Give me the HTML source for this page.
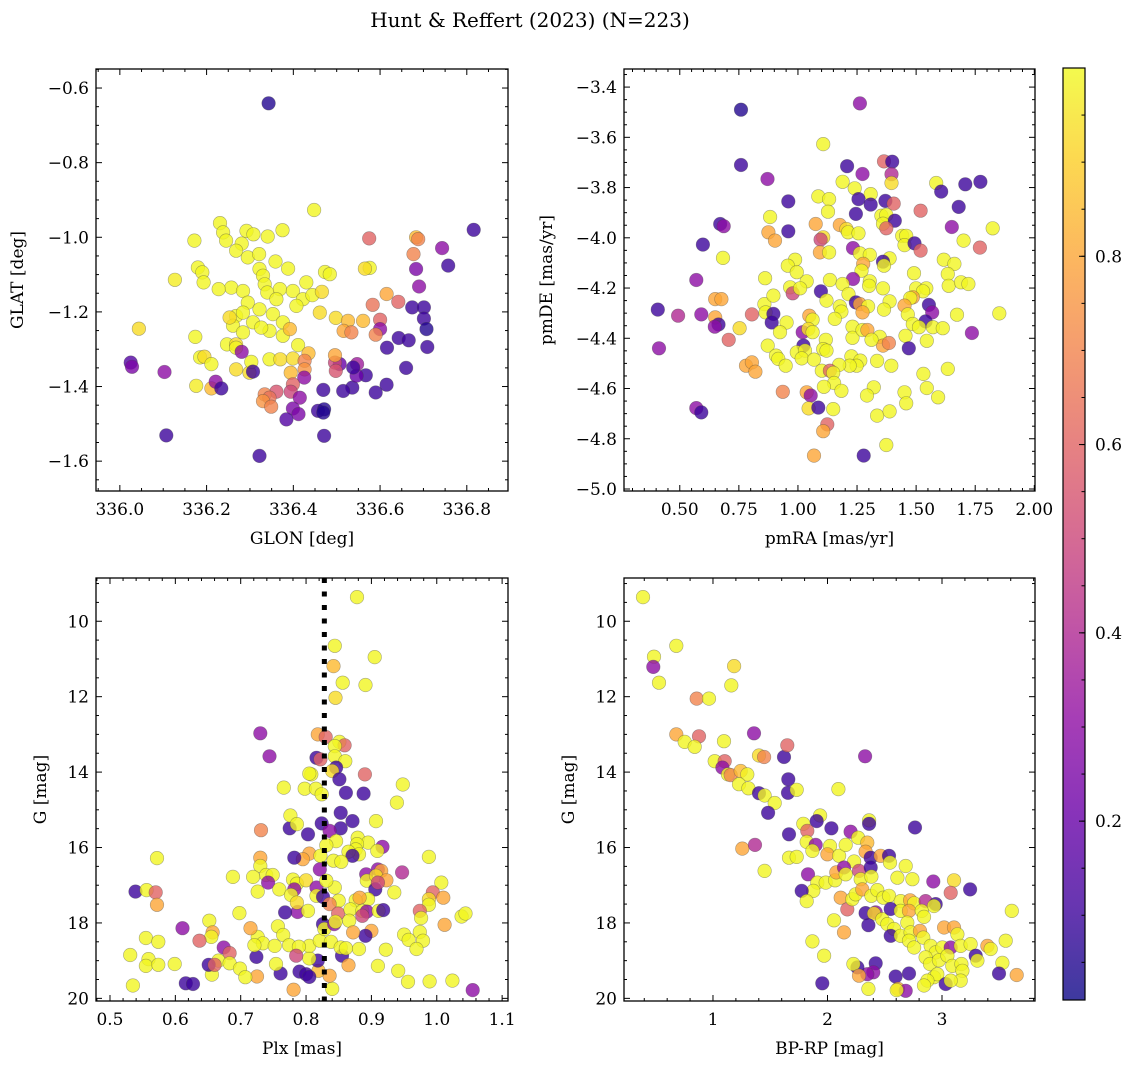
<!DOCTYPE html>
<html><head><meta charset="utf-8"><style>
html,body{margin:0;padding:0;background:#fff;}
svg text{font-family:"DejaVu Serif","Liberation Serif",serif;fill:#000;}
</style></head><body>
<svg id="fig" width="1136" height="1068" viewBox="0 0 1136 1068" xmlns="http://www.w3.org/2000/svg">
<text x="530" y="27" font-size="20" text-anchor="middle">Hunt &amp; Reffert (2023) (N=223)</text>
</svg>
<script>
// ---- data: [x, y, membership probability] ----
const glonGlat = [[336.343,-0.641,.05],[336.448,-0.927,.99],[336.816,-0.980,.1],[336.231,-0.962,.99],[336.172,-1.009,.99],[336.238,-0.987,.99],[336.245,-1.009,.99],[336.292,-0.983,.99],[336.308,-0.992,.99],[336.341,-0.998,.99],[336.375,-0.981,.99],[336.281,-1.017,.99],[336.268,-1.036,.99],[336.295,-1.054,.99],[336.321,-1.045,.99],[336.359,-1.065,.99],[336.180,-1.081,.99],[336.190,-1.094,.99],[336.322,-1.085,.99],[336.330,-1.103,.99],[336.388,-1.084,.99],[336.473,-1.093,.99],[336.484,-1.099,.99],[336.127,-1.114,.97],[336.193,-1.121,.99],[336.257,-1.135,.99],[336.228,-1.139,.99],[336.284,-1.144,.99],[336.334,-1.126,.99],[336.430,-1.121,.99],[336.340,-1.148,.99],[336.369,-1.139,.99],[336.399,-1.144,.99],[336.422,-1.166,.99],[336.444,-1.155,.99],[336.466,-1.146,.93],[336.361,-1.166,.99],[336.407,-1.184,.99],[336.295,-1.175,.99],[336.322,-1.193,.99],[336.353,-1.206,.99],[336.268,-1.211,.99],[336.261,-1.237,.99],[336.307,-1.228,.99],[336.345,-1.251,.99],[336.376,-1.228,.99],[336.284,-1.255,.99],[336.253,-1.215,.93],[336.326,-1.242,.99],[336.284,-1.202,.99],[336.376,-1.264,.99],[336.411,-1.289,.99],[336.392,-1.246,.85],[336.044,-1.245,.93],[336.174,-1.267,.99],[336.247,-1.287,.99],[336.268,-1.287,.93],[336.268,-1.296,.99],[336.185,-1.322,.99],[336.195,-1.320,.93],[336.211,-1.340,.99],[336.268,-1.354,.93],[336.299,-1.363,.93],[336.303,-1.334,.99],[336.345,-1.327,.99],[336.370,-1.327,.93],[336.399,-1.325,.93],[336.394,-1.363,.85],[336.435,-1.311,.85],[336.461,-1.202,.93],[336.498,-1.216,.93],[336.526,-1.224,.85],[336.516,-1.251,.8],[336.534,-1.255,.7],[336.561,-1.224,.85],[336.576,-1.082,.99],[336.565,-1.084,.93],[336.575,-1.003,.6],[336.683,-1.000,.85],[336.688,-1.005,.7],[336.677,-1.045,.7],[336.743,-1.029,.3],[336.757,-1.076,.1],[336.683,-1.085,.25],[336.690,-1.132,.3],[336.615,-1.152,.8],[336.583,-1.181,.65],[336.642,-1.173,.6],[336.600,-1.221,.6],[336.600,-1.246,.3],[336.590,-1.261,.7],[336.674,-1.188,.1],[336.701,-1.188,.1],[336.701,-1.218,.1],[336.707,-1.246,.05],[336.709,-1.294,.1],[336.643,-1.270,.1],[336.666,-1.276,.1],[336.616,-1.296,.1],[336.660,-1.350,.1],[336.615,-1.395,.1],[336.590,-1.416,.1],[336.536,-1.403,.1],[336.515,-1.412,.1],[336.469,-1.409,.1],[336.567,-1.370,.1],[336.546,-1.371,.2],[336.547,-1.340,.35],[336.538,-1.349,.1],[336.507,-1.340,.2],[336.496,-1.336,.5],[336.498,-1.358,.55],[336.496,-1.316,.8],[336.426,-1.331,.7],[336.426,-1.354,.75],[336.425,-1.376,.3],[336.399,-1.394,.6],[336.394,-1.414,.5],[336.415,-1.430,.3],[336.399,-1.459,.25],[336.412,-1.474,.25],[336.384,-1.488,.15],[336.361,-1.414,.55],[336.334,-1.421,.7],[336.345,-1.430,.65],[336.330,-1.439,.75],[336.349,-1.454,.7],[336.457,-1.465,.1],[336.471,-1.461,.05],[336.469,-1.470,.05],[336.471,-1.532,.1],[336.322,-1.586,.1],[336.107,-1.531,.1],[336.025,-1.336,.15],[336.028,-1.347,.25],[336.103,-1.361,.3],[336.176,-1.398,.97],[336.211,-1.405,.85],[336.221,-1.387,.3],[336.234,-1.405,.1],[336.307,-1.360,.1],[336.281,-1.307,.3]];
const pmraPmde = [[1.262,-3.465,.3],[0.759,-3.490,.05],[0.759,-3.710,.1],[1.107,-3.627,.99],[0.871,-3.766,.3],[1.208,-3.715,.1],[1.273,-3.746,.3],[1.364,-3.696,.6],[1.399,-3.697,.1],[1.396,-3.747,.4],[1.396,-3.782,.93],[1.189,-3.777,.99],[1.240,-3.803,.99],[1.308,-3.826,.99],[1.256,-3.846,.1],[1.308,-3.868,.1],[1.370,-3.853,.1],[1.405,-3.864,.6],[1.086,-3.835,.99],[1.132,-3.846,.99],[1.127,-3.896,.99],[1.245,-3.905,.1],[1.353,-3.912,.99],[1.374,-3.909,.99],[1.360,-3.944,.99],[1.410,-3.932,.1],[1.374,-3.962,.6],[0.959,-3.855,.1],[0.959,-3.974,.1],[0.882,-3.917,.99],[0.875,-3.978,.8],[0.903,-4.011,.8],[1.075,-3.945,.8],[1.107,-3.998,.93],[1.096,-4.007,.5],[1.093,-4.058,.8],[1.132,-4.058,.99],[1.177,-3.949,.8],[1.205,-3.965,.93],[1.212,-3.978,.99],[1.256,-3.982,.99],[0.671,-3.945,.1],[0.686,-3.954,.3],[0.598,-4.027,.1],[0.683,-4.080,.99],[0.570,-4.168,.3],[1.585,-3.782,.99],[1.606,-3.816,.1],[1.708,-3.787,.1],[1.772,-3.777,.1],[1.680,-3.877,.1],[1.519,-3.892,.6],[1.651,-3.957,.3],[1.824,-3.962,.99],[1.701,-4.011,.99],[1.770,-4.039,.6],[1.441,-3.992,.99],[1.458,-3.992,.99],[1.451,-4.029,.99],[1.493,-4.022,.1],[1.519,-4.051,.6],[1.233,-4.041,.3],[1.262,-4.062,.99],[1.304,-4.068,.99],[1.276,-4.104,.8],[1.388,-4.082,.99],[1.360,-4.095,.1],[1.364,-4.111,.99],[1.269,-4.131,.99],[1.304,-4.173,.99],[1.301,-4.191,.99],[1.233,-4.164,.3],[1.135,-4.168,.99],[1.189,-4.184,.99],[1.037,-4.173,.99],[0.988,-4.087,.99],[0.957,-4.111,.99],[0.995,-4.137,.99],[0.861,-4.161,.99],[0.967,-4.197,.99],[0.978,-4.221,.5],[1.009,-4.201,.99],[1.097,-4.213,.1],[1.214,-4.224,.99],[1.121,-4.250,.99],[1.177,-4.273,.99],[1.184,-4.294,.99],[1.245,-4.257,.1],[1.262,-4.264,.8],[1.297,-4.273,.99],[1.273,-4.297,.8],[1.360,-4.201,.99],[1.388,-4.253,.99],[1.364,-4.286,.99],[1.491,-4.141,.99],[1.500,-4.201,.99],[1.543,-4.201,.99],[1.529,-4.213,.99],[1.486,-4.237,.8],[1.475,-4.240,.99],[1.554,-4.267,.1],[1.568,-4.297,.3],[1.540,-4.333,.1],[1.617,-4.087,.99],[1.662,-4.104,.99],[1.634,-4.144,.99],[1.638,-4.191,.99],[1.690,-4.177,.99],[1.721,-4.184,.99],[1.673,-4.306,.99],[1.852,-4.301,.99],[1.736,-4.379,.3],[1.451,-4.270,.8],[1.465,-4.305,.99],[1.486,-4.343,.99],[1.512,-4.356,.99],[1.571,-4.356,.99],[1.613,-4.360,.99],[1.545,-4.410,.99],[1.455,-4.390,.99],[1.469,-4.440,.1],[0.650,-4.244,.8],[0.676,-4.244,.8],[0.407,-4.286,.1],[0.493,-4.310,.4],[0.591,-4.305,.3],[0.650,-4.317,.8],[0.664,-4.345,.1],[0.648,-4.354,.3],[0.805,-4.305,.6],[0.707,-4.406,.6],[0.753,-4.360,.93],[0.412,-4.440,.3],[0.858,-4.264,.99],[0.863,-4.297,.99],[0.896,-4.230,.99],[0.896,-4.303,.1],[0.889,-4.337,.1],[0.952,-4.337,.99],[0.924,-4.376,.99],[0.872,-4.429,.99],[0.907,-4.469,.99],[0.917,-4.482,.99],[0.948,-4.509,.99],[1.020,-4.376,.3],[1.023,-4.429,.1],[0.995,-4.456,.99],[1.030,-4.449,.99],[1.016,-4.480,.99],[1.068,-4.485,.99],[1.048,-4.310,.8],[1.062,-4.326,.99],[1.044,-4.363,.93],[1.062,-4.376,.99],[1.118,-4.406,.99],[1.107,-4.443,.99],[1.121,-4.449,.99],[1.156,-4.323,.99],[1.231,-4.354,.99],[1.231,-4.398,.99],[1.273,-4.367,.99],[1.294,-4.367,.8],[1.346,-4.394,.99],[1.360,-4.429,.8],[1.385,-4.419,.7],[1.311,-4.406,.99],[1.335,-4.490,.99],[1.395,-4.509,.99],[1.226,-4.472,.99],[1.264,-4.489,.99],[1.248,-4.509,.99],[1.219,-4.509,.99],[1.174,-4.506,.99],[0.780,-4.509,.8],[0.805,-4.496,.8],[0.820,-4.533,.8],[1.101,-4.529,.99],[1.135,-4.529,.6],[1.149,-4.538,.99],[1.153,-4.578,.99],[1.110,-4.593,.99],[1.184,-4.609,.99],[1.321,-4.595,.99],[1.292,-4.628,.99],[1.451,-4.615,.99],[1.458,-4.659,.99],[1.531,-4.542,.99],[1.545,-4.598,.99],[1.593,-4.635,.99],[1.634,-4.522,.99],[0.936,-4.613,.7],[1.037,-4.615,.8],[1.054,-4.628,.3],[1.045,-4.679,.93],[1.086,-4.676,.1],[1.149,-4.682,.99],[1.124,-4.743,.6],[1.107,-4.770,.8],[1.068,-4.867,.8],[1.278,-4.867,.1],[1.335,-4.708,.99],[1.388,-4.691,.99],[1.374,-4.825,.99],[0.570,-4.678,.3],[0.591,-4.695,.1]];
const plxG = [[0.878,9.36,.99],[0.844,10.65,.99],[0.905,10.95,.99],[0.842,11.19,.85],[0.856,11.63,.99],[0.891,11.69,.99],[0.845,12.03,.93],[0.730,12.97,.3],[0.744,13.58,.3],[0.818,13.00,.8],[0.830,13.07,.6],[0.851,13.20,.99],[0.859,13.29,.6],[0.844,13.31,.99],[0.844,13.58,.99],[0.860,13.71,.99],[0.816,13.62,.1],[0.822,13.66,.6],[0.846,13.88,.1],[0.840,13.97,.93],[0.851,14.19,.1],[0.890,14.06,.6],[0.808,14.06,.99],[0.805,14.04,.99],[0.766,14.41,.99],[0.798,14.44,.99],[0.815,14.44,.99],[0.824,14.59,.99],[0.861,14.55,.1],[0.888,14.57,.1],[0.948,14.33,.99],[0.939,14.81,.99],[0.853,15.08,.1],[0.871,15.30,.1],[0.853,15.49,.1],[0.775,15.49,.1],[0.776,15.15,.99],[0.786,15.38,.99],[0.803,15.65,.1],[0.824,15.36,.1],[0.836,15.56,.3],[0.731,15.54,.7],[0.907,15.30,.99],[0.879,15.74,.99],[0.895,15.87,.99],[0.878,15.91,.99],[0.876,16.05,.99],[0.881,16.18,.99],[0.865,16.11,.99],[0.871,16.22,.1],[0.917,15.98,.3],[0.909,16.09,.99],[0.846,15.83,.99],[0.831,15.94,.99],[0.842,16.35,.99],[0.854,16.38,.99],[0.805,16.16,.8],[0.795,16.31,.8],[0.782,16.27,.1],[0.822,16.22,.99],[0.821,16.58,.3],[0.572,16.28,.99],[0.730,16.27,.8],[0.730,16.49,.99],[0.739,16.73,.99],[0.749,16.73,.99],[0.719,16.78,.99],[0.688,16.78,.99],[0.726,17.17,.99],[0.742,16.93,.3],[0.759,17.11,.99],[0.780,16.85,.99],[0.786,16.96,.99],[0.800,16.87,.93],[0.782,17.11,.3],[0.777,17.26,.99],[0.816,17.06,.3],[0.816,17.28,.99],[0.826,17.31,.1],[0.844,17.06,.99],[0.831,16.88,.99],[0.892,16.71,.3],[0.893,16.88,.99],[0.910,16.58,.3],[0.915,16.62,.8],[0.907,16.75,.93],[0.923,16.87,.8],[0.906,17.11,.1],[0.910,16.93,.5],[0.895,17.37,.99],[0.876,17.40,.99],[0.882,17.33,.8],[0.850,17.41,.99],[0.836,17.50,.7],[0.849,17.75,.6],[0.868,17.64,.99],[0.866,17.94,.99],[0.886,17.68,.99],[0.893,17.70,.3],[0.886,17.81,.5],[0.911,17.68,.99],[0.918,17.66,.1],[0.935,17.19,.99],[0.947,16.66,.4],[0.988,16.25,.99],[1.007,16.93,.99],[0.994,17.19,.6],[1.010,17.33,.8],[0.988,17.37,.93],[0.988,17.52,.99],[0.974,17.68,.6],[0.976,17.87,.99],[1.038,17.83,.99],[1.044,17.75,.99],[1.012,18.05,.8],[0.974,18.24,.99],[0.950,18.31,.99],[0.957,18.45,.99],[0.979,18.47,.99],[0.969,18.69,.99],[0.922,18.71,.99],[0.910,19.14,.99],[0.941,19.27,.99],[0.956,19.56,.99],[0.989,19.55,.99],[1.024,19.53,.99],[1.055,19.78,.3],[0.840,19.75,.99],[0.836,19.40,.8],[0.819,19.27,.85],[0.818,19.00,.1],[0.805,18.94,.99],[0.805,18.61,.99],[0.821,18.47,.99],[0.838,18.50,.99],[0.826,18.03,.1],[0.828,18.16,.99],[0.843,18.03,.3],[0.845,17.97,.99],[0.855,18.87,.1],[0.865,19.12,.8],[0.853,18.65,.99],[0.861,18.67,.99],[0.881,18.69,.99],[0.900,18.21,.8],[0.891,18.34,.1],[0.872,18.25,.8],[0.787,17.71,.3],[0.786,17.46,.93],[0.768,17.72,.1],[0.803,17.68,.99],[0.757,18.09,.99],[0.765,18.32,.99],[0.774,18.59,.99],[0.789,18.63,.99],[0.785,18.87,.5],[0.790,19.29,.1],[0.800,19.36,.1],[0.805,19.43,.1],[0.761,19.34,.1],[0.754,19.09,.99],[0.781,19.77,.8],[0.725,19.42,.8],[0.724,18.90,.1],[0.726,18.37,.99],[0.734,18.54,.99],[0.721,18.59,.99],[0.752,18.61,.99],[0.715,18.14,.8],[0.698,17.74,.99],[0.652,17.94,.99],[0.657,18.25,.8],[0.655,18.37,.99],[0.637,18.47,.6],[0.611,18.14,.3],[0.674,18.65,.3],[0.683,18.80,.6],[0.666,19.00,.99],[0.683,19.07,.99],[0.699,19.21,.99],[0.707,19.44,.99],[0.656,19.37,.99],[0.651,19.11,.1],[0.660,19.11,.6],[0.599,19.09,.99],[0.616,19.60,.1],[0.627,19.62,.1],[0.555,18.40,.99],[0.574,18.50,.99],[0.531,18.85,.99],[0.559,18.96,.99],[0.555,19.14,.99],[0.574,19.11,.99],[0.535,19.66,.99],[0.539,17.17,.1],[0.556,17.13,.99],[0.570,17.19,.6],[0.572,17.52,.8]];
const bprpG = [[0.389,9.36,.99],[0.485,10.94,.99],[0.479,11.21,.3],[0.529,11.63,.99],[0.680,10.65,.99],[1.184,11.19,.93],[1.160,11.70,.99],[0.858,12.05,.7],[0.965,12.05,.99],[0.680,13.00,.8],[0.878,13.05,.6],[0.753,13.20,.99],[0.840,13.33,.99],[1.096,13.18,.99],[1.358,12.97,.3],[1.402,13.56,.93],[1.446,13.60,.7],[1.620,13.60,.1],[1.649,13.29,.6],[1.015,13.71,.99],[1.102,13.71,.6],[1.082,13.88,.3],[1.131,14.06,.99],[1.155,14.08,.7],[1.242,13.97,.85],[1.300,14.06,.99],[1.227,14.32,.99],[1.309,14.43,.99],[1.402,14.56,.1],[1.451,14.62,.99],[1.539,14.82,.99],[1.481,15.08,.1],[1.658,14.19,.1],[1.655,14.55,.1],[1.731,14.47,.99],[2.095,14.45,.99],[2.328,13.58,.3],[1.935,15.15,.99],[1.906,15.30,.1],[1.789,15.37,.99],[1.824,15.56,.6],[1.664,15.65,.1],[2.034,15.49,.1],[2.202,15.58,.3],[2.363,15.28,.99],[2.363,15.37,.1],[2.764,15.47,.1],[1.818,15.85,.99],[1.897,15.93,.3],[1.868,16.09,.99],[2.022,15.96,.99],[1.999,16.18,.8],[2.101,16.22,.99],[2.159,15.93,.99],[2.267,15.74,.99],[2.348,15.87,.85],[2.333,16.11,.8],[2.377,16.27,.1],[2.232,16.37,.99],[2.464,16.22,.8],[2.537,16.22,.1],[2.546,16.40,.99],[1.256,16.03,.8],[1.367,15.93,.4],[1.664,16.27,.99],[1.731,16.25,.99],[1.451,16.62,.99],[1.830,16.71,.3],[1.911,16.93,.99],[1.984,16.93,.99],[2.066,16.87,.99],[2.077,16.66,.8],[2.144,16.53,.3],[2.159,16.71,.99],[2.275,16.62,.5],[2.290,16.84,.99],[2.377,16.53,.1],[2.383,16.77,.99],[2.610,16.80,.99],[2.683,16.49,.99],[2.741,16.84,.99],[1.876,17.15,.99],[1.775,17.15,.1],[1.818,17.42,.99],[2.115,17.33,.8],[2.173,17.64,.6],[2.217,17.37,.99],[2.246,17.24,.99],[2.304,17.11,.8],[2.383,17.28,.99],[2.435,17.13,.99],[2.488,17.33,.99],[2.537,17.28,.99],[2.639,17.42,.99],[2.721,17.40,.8],[2.756,17.48,.99],[2.857,17.42,.4],[2.945,17.50,.1],[2.930,17.55,.99],[2.924,16.90,.3],[3.105,16.87,.93],[3.076,17.20,.6],[3.245,17.11,.1],[2.057,17.93,.99],[2.144,18.25,.8],[2.333,17.74,.1],[2.421,17.72,.3],[2.406,17.75,.93],[2.357,18.06,.1],[2.479,17.90,.99],[2.552,17.63,.1],[2.639,17.68,.99],[2.712,17.68,.8],[2.823,17.68,.99],[2.843,17.84,.99],[2.523,18.03,.99],[2.581,18.16,.99],[2.552,18.34,.1],[2.639,18.34,.99],[2.697,17.99,.99],[2.726,18.25,.99],[2.712,18.47,.99],[2.756,18.65,.99],[2.808,18.21,.8],[2.837,18.39,.99],[2.901,18.61,.99],[2.945,18.78,.99],[3.003,18.65,.99],[3.076,18.65,.3],[3.018,18.12,.8],[3.105,18.12,.8],[3.134,18.30,.99],[3.163,18.61,.99],[3.250,18.56,.99],[3.294,18.87,.1],[3.309,19.00,.99],[3.396,18.61,.8],[3.425,18.69,.99],[3.556,18.47,.99],[3.609,17.68,.99],[3.527,19.06,.99],[3.498,19.34,.1],[3.652,19.38,.8],[2.857,18.91,.99],[2.895,19.09,.99],[2.974,18.99,.99],[3.047,18.87,.99],[3.090,19.14,.99],[3.169,19.09,.99],[3.178,19.27,.99],[3.163,19.53,.99],[2.930,19.44,.99],[2.959,19.36,.99],[2.872,19.53,.99],[3.032,19.62,.1],[3.076,19.53,.99],[2.843,19.66,.99],[2.712,19.34,.1],[2.595,19.42,.1],[2.616,19.75,.8],[2.683,19.80,.3],[2.604,19.78,.99],[2.421,19.07,.1],[2.400,19.31,.3],[2.348,19.36,.3],[2.261,19.18,.1],[2.226,19.09,.99],[2.275,19.40,.8],[2.357,19.75,.99],[1.955,19.60,.1],[1.970,18.87,.99],[1.868,18.49,.99]];
const plxReference = [0.828];
const cbarTicks = [0.2, 0.4, 0.6, 0.8];

const NS = "http://www.w3.org/2000/svg";
const svg = document.getElementById('fig');
const stops = [[0,'#0d0887'],[.1,'#41049d'],[.2,'#6a00a8'],[.3,'#8f0da4'],[.4,'#b12a90'],[.5,'#cc4778'],[.6,'#e16462'],[.7,'#f2844b'],[.8,'#fca636'],[.9,'#fcce25'],[1,'#f0f921']];
function hx(c){return [1,3,5].map(i=>parseInt(c.substr(i,2),16));}
function plasma(t){t=Math.max(0,Math.min(1,t));for(let i=1;i<stops.length;i++){if(t<=stops[i][0]){const a=stops[i-1],b=stops[i];const f=(t-a[0])/(b[0]-a[0]);const A=hx(a[1]),B=hx(b[1]);return 'rgb('+A.map((v,k)=>Math.round(v+(B[k]-v)*f)).join(',')+')';}}return stops[10][1];}
const CMIN=0.01,CMAX=1.0;
function el(tag,attrs,parent){const e=document.createElementNS(NS,tag);for(const k in attrs)e.setAttribute(k,attrs[k]);(parent||svg).appendChild(e);return e;}
function fmt(v,d){let s=v.toFixed(d);return s.replace('-','\u2212');}

function panel(cfg){
  const g=el('g',{});
  
  
  const X=v=>cfg.px0+(v-cfg.x0)/(cfg.x1-cfg.x0)*(cfg.px1-cfg.px0);
  const Y=v=>cfg.py0+(v-cfg.y0)/(cfg.y1-cfg.y0)*(cfg.py1-cfg.py0);
  const cid='clip'+cfg.name;
  const cp=el('clipPath',{id:cid},g);
  el('rect',{x:cfg.px0,y:cfg.py0,width:cfg.px1-cfg.px0,height:cfg.py1-cfg.py0},cp);
  const pts=el('g',{'clip-path':'url(#'+cid+')'},g);
  
  
  cfg.data.forEach(d=>{
    const c=el('circle',{cx:X(d[0]).toFixed(1),cy:Y(d[1]).toFixed(1),r:6.8,fill:plasma((d[2]-CMIN)/(CMAX-CMIN)),'fill-opacity':0.8,stroke:'#444','stroke-opacity':0.45,'stroke-width':0.6},pts);
    
    
  });
  if(cfg.vline){cfg.vline.forEach(v=>{
    const l=el('line',{x1:X(v),x2:X(v),y1:cfg.py0,y2:cfg.py1,stroke:'#000','stroke-width':5,'stroke-dasharray':'5,8.5'},g);
    
    
  });}
  const fr=el('rect',{x:cfg.px0,y:cfg.py0,width:cfg.px1-cfg.px0,height:cfg.py1-cfg.py0,fill:'none',stroke:'#000','stroke-width':1.3},g);
  
  
  const tk=el('g',{stroke:'#000','stroke-width':1},g);
  const lo=Math.min(cfg.x0,cfg.x1),hi=Math.max(cfg.x0,cfg.x1);
  for(let v=Math.ceil(lo/cfg.xmin-1e-6)*cfg.xmin;v<=hi+1e-9;v+=cfg.xmin){
    const isMaj=Math.abs(v/cfg.xmaj-Math.round(v/cfg.xmaj))<1e-4;const L=isMaj?6:3;const x=X(v);
    el('line',{x1:x,x2:x,y1:cfg.py1,y2:cfg.py1-L},tk);el('line',{x1:x,x2:x,y1:cfg.py0,y2:cfg.py0+L},tk);
    if(isMaj){const t=el('text',{x:x,y:cfg.py1+24,'font-size':17,'text-anchor':'middle',stroke:'none'},g);t.textContent=fmt(v,cfg.xd);}
  }
  const ylo=Math.min(cfg.y0,cfg.y1),yhi=Math.max(cfg.y0,cfg.y1);
  for(let v=Math.ceil(ylo/cfg.ymin-1e-6)*cfg.ymin;v<=yhi+1e-9;v+=cfg.ymin){
    const isMaj=Math.abs(v/cfg.ymaj-Math.round(v/cfg.ymaj))<1e-4;const L=isMaj?6:3;const y=Y(v);
    el('line',{x1:cfg.px0,x2:cfg.px0+L,y1:y,y2:y},tk);el('line',{x1:cfg.px1,x2:cfg.px1-L,y1:y,y2:y},tk);
    if(isMaj){const t=el('text',{x:cfg.px0-7,y:y+6,'font-size':17,'text-anchor':'end',stroke:'none'},g);t.textContent=fmt(v,cfg.yd);}
  }
  const xl=el('text',{x:(cfg.px0+cfg.px1)/2,y:cfg.py1+53,'font-size':17,'text-anchor':'middle'},g);xl.textContent=cfg.xlabel;
  
  
  const yl=el('text',{x:0,y:0,'font-size':17,'text-anchor':'middle',transform:'translate('+cfg.ylx+','+(cfg.py0+cfg.py1)/2+') rotate(-90)'},g);yl.textContent=cfg.ylabel;
  
  
}

panel({name:'glon-glat-panel',data:glonGlat,px0:96,px1:508,py0:69,py1:491,x0:335.945,x1:336.895,y0:-0.549,y1:-1.680,xmaj:0.2,xmin:0.05,ymaj:0.2,ymin:0.05,xd:1,yd:1,xlabel:'GLON [deg]',ylabel:'GLAT [deg]',ylx:23});
panel({name:'proper-motion-panel',data:pmraPmde,px0:624,px1:1035,py0:69,py1:491,x0:0.264,x1:2.003,y0:-3.328,y1:-5.008,xmaj:0.25,xmin:0.05,ymaj:0.2,ymin:0.05,xd:2,yd:1,xlabel:'pmRA [mas/yr]',ylabel:'pmDE [mas/yr]',ylx:552});
panel({name:'parallax-magnitude-panel',data:plxG,vline:plxReference,px0:96,px1:508,py0:578,py1:1001,x0:0.4786,x1:1.109,y0:8.853,y1:20.07,xmaj:0.1,xmin:0.02,ymaj:2,ymin:0.5,xd:1,yd:0,xlabel:'Plx [mas]',ylabel:'G [mag]',ylx:46});
panel({name:'color-magnitude-panel',data:bprpG,px0:624,px1:1035,py0:578,py1:1001,x0:0.223,x1:3.812,y0:8.853,y1:20.07,xmaj:1,xmin:0.2,ymaj:2,ymin:0.5,xd:0,yd:0,xlabel:'BP-RP [mag]',ylabel:'G [mag]',ylx:574});

(function(){
  const cb=el('g',{});
  
  
  const defs=el('defs',{},cb);
  const lg=el('linearGradient',{id:'cbg',x1:0,y1:1,x2:0,y2:0},defs);
  for(let i=0;i<=20;i++){const t=i/20;el('stop',{offset:t,'stop-color':plasma(t),'stop-opacity':0.8},lg);}
  const x0=1063,x1=1085,y0=68,y1=1000;
  el('rect',{x:x0,y:y0,width:x1-x0,height:y1-y0,fill:'#fff'},cb);
  el('rect',{x:x0,y:y0,width:x1-x0,height:y1-y0,fill:'url(#cbg)',stroke:'#000','stroke-width':1.2},cb);
  const Y=v=>y1-(v-CMIN)/(CMAX-CMIN)*(y1-y0);
  for(let v=0.05;v<1;v+=0.05){const y=Y(v);el('line',{x1:x1,x2:x1-3.5,y1:y,y2:y,stroke:'#000'},cb);}
  cbarTicks.forEach(v=>{const y=Y(v);el('line',{x1:x1,x2:x1-6,y1:y,y2:y,stroke:'#000'},cb);
    const t=el('text',{x:x1+10,y:y+6,'font-size':17},cb);t.textContent=v.toFixed(1);
    
    });
})();
</script>
</body></html>
